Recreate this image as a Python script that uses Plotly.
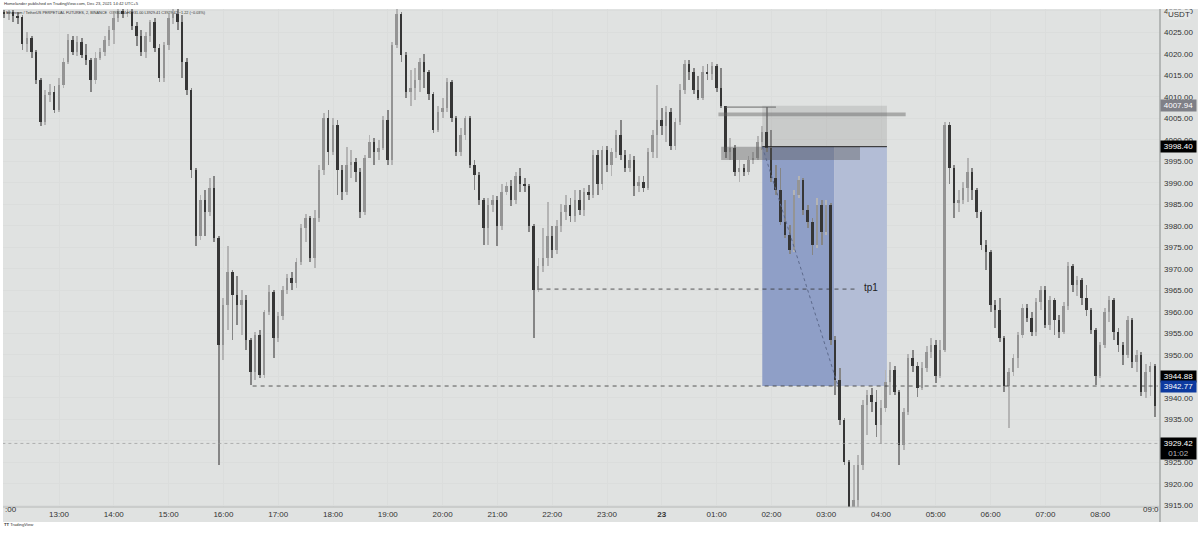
import pandas as pd
import plotly.graph_objects as go

# 5 minute candles, one row per hour, 12:00 on Dec 22 to 09:00 on Dec 23
opens = [
    4029.7, 4029.2, 4029.7, 4028.8, 4028.5, 4022.3, 4023.7, 4020.4, 4013.9, 4004.1, 4010.4, 4011.1,
    4006.9, 4012.7, 4018.1, 4023.2, 4020.4, 4022.7, 4019.7, 4018.6, 4013.9, 4019.0, 4020.4, 4023.2,
    4025.5, 4028.3, 4029.9, 4029.2, 4029.7, 4026.5, 4024.1, 4020.4, 4024.1, 4027.4, 4021.3, 4014.4,
    4022.0, 4028.3, 4029.2, 4027.4, 4018.1, 4011.6, 3993.0, 3977.6, 3986.0, 3983.2, 3988.8, 3977.2,
    3952.3, 3961.6, 3969.3, 3963.9, 3961.6, 3962.8, 3953.5, 3946.0, 3954.6, 3945.3, 3960.0, 3964.6,
    3953.9, 3959.0, 3965.1, 3967.9, 3966.7, 3971.6, 3979.5, 3981.8, 3972.5, 3981.8, 3993.0, 4005.1,
    3997.2, 4003.4, 3993.0, 3987.9, 3994.1, 3994.8, 3992.5, 3983.2, 3995.8, 3999.5, 3997.2, 3998.1,
    4004.6, 3995.3, 4022.0, 4029.2, 4019.7, 4011.1, 4012.0, 4013.9, 4018.1, 4015.8, 4010.6, 4002.3,
    4006.5, 4007.4, 4013.4, 4005.1, 3997.2, 4001.1, 4005.1, 3994.1, 3991.8, 3986.0, 3979.5, 3984.8,
    3986.0, 3980.0, 3987.9, 3989.3, 3986.0, 3991.6, 3989.7, 3989.3, 3980.0, 3965.1, 3970.7, 3972.5,
    3977.6, 3974.4, 3980.0, 3983.2, 3984.8, 3982.3, 3986.0, 3983.7, 3987.9, 3987.2, 3996.5, 3989.7,
    3997.6, 3994.1, 3997.2, 4001.1, 3996.5, 3993.4, 3995.3, 3989.3, 3990.2, 3988.8, 3997.2, 4001.1,
    4004.6, 4003.2, 4006.5, 3998.6, 4004.1, 4011.6, 4017.6, 4015.8, 4011.6, 4009.7, 4015.8, 4015.3,
    4017.2, 4012.0, 4007.9, 3997.2, 3998.1, 3992.5, 3993.4, 3992.5, 3995.3, 3995.8, 3999.5, 4001.8,
    3998.1, 3991.1, 3988.3, 3980.9, 3977.9, 3974.4, 3987.2, 3990.7, 3983.7, 3980.9, 3975.5, 3984.8,
    3978.6, 3984.8, 3953.5, 3944.2, 3934.9, 3925.1, 3914.6, 3916.3, 3924.4, 3938.3, 3940.7, 3939.0,
    3933.7, 3937.6, 3943.7, 3946.5, 3941.4, 3929.0, 3936.7, 3949.3, 3947.4, 3942.3, 3947.0, 3950.7,
    3952.3, 3945.1, 3951.1, 4003.4, 3993.4, 3985.3, 3986.0, 3988.8, 3992.5, 3988.3, 3983.2, 3975.5,
    3973.9, 3961.6, 3960.4, 3953.9, 3942.8, 3946.0, 3949.3, 3954.6, 3960.9, 3958.6, 3955.3, 3962.3,
    3965.1, 3956.9, 3962.8, 3958.1, 3955.3, 3961.4, 3970.7, 3966.2, 3967.4, 3963.2, 3960.4, 3955.8,
    3945.1, 3952.3, 3960.0, 3962.8, 3955.3, 3952.3, 3950.0, 3958.1, 3948.3, 3950.0, 3941.4, 3946.0,
    3947.4,
]
highs = [
    4030.2, 4030.2, 4030.2, 4029.7, 4029.0, 4025.1, 4024.1, 4020.9, 4014.4, 4011.6, 4013.0, 4012.5,
    4014.4, 4019.0, 4024.6, 4024.1, 4024.1, 4023.7, 4022.3, 4019.0, 4020.4, 4021.3, 4024.1, 4026.5,
    4029.2, 4030.4, 4030.4, 4030.4, 4030.4, 4027.4, 4025.5, 4025.1, 4027.9, 4028.3, 4022.3, 4022.7,
    4029.2, 4030.4, 4030.4, 4029.0, 4019.0, 4012.0, 3993.4, 3987.2, 3988.3, 3991.1, 3991.6, 3977.6,
    3963.2, 3975.3, 3969.7, 3968.3, 3965.1, 3963.9, 3953.9, 3955.3, 3955.8, 3960.4, 3966.2, 3965.1,
    3960.0, 3966.0, 3968.8, 3969.3, 3972.5, 3980.4, 3982.7, 3982.3, 3983.7, 3994.1, 4006.2, 4006.9,
    4005.1, 4004.6, 3994.1, 3998.3, 3997.6, 3995.8, 3993.4, 3996.5, 4001.1, 4000.4, 3999.9, 4005.5,
    4006.9, 4022.7, 4030.4, 4029.7, 4020.4, 4016.2, 4016.7, 4019.0, 4020.0, 4016.2, 4011.1, 4007.9,
    4009.7, 4014.4, 4013.9, 4005.5, 4002.7, 4005.5, 4005.5, 3995.3, 3992.5, 3986.5, 3986.5, 3987.2,
    3986.9, 3989.7, 3990.2, 3990.7, 3992.5, 3993.4, 3991.1, 3989.7, 3980.4, 3972.5, 3979.5, 3985.5,
    3980.0, 3981.4, 3985.1, 3987.2, 3986.5, 3988.3, 3988.3, 3988.8, 3989.5, 3997.6, 3997.6, 3998.6,
    3998.6, 3998.1, 4002.3, 4004.6, 3997.6, 3996.7, 3996.2, 3991.6, 3991.6, 3998.1, 4002.3, 4012.7,
    4007.4, 4007.9, 4007.4, 4005.1, 4013.0, 4018.6, 4018.6, 4016.7, 4014.8, 4017.2, 4017.6, 4018.1,
    4017.6, 4016.7, 4007.9, 4000.4, 3998.8, 3995.3, 3994.4, 3996.2, 3997.2, 4000.9, 4003.2, 4007.6,
    4002.3, 3994.1, 3993.4, 3986.0, 3980.2, 3988.3, 3991.6, 3991.1, 3984.8, 3981.8, 3986.5, 3986.0,
    3986.0, 3985.3, 3954.4, 3947.0, 3935.3, 3925.6, 3924.4, 3926.7, 3939.5, 3941.8, 3942.3, 3941.8,
    3939.5, 3946.5, 3948.3, 3947.4, 3941.8, 3937.6, 3950.2, 3951.1, 3948.3, 3948.3, 3952.1, 3953.9,
    3953.5, 3953.5, 4004.1, 4004.1, 3994.1, 3988.3, 3990.2, 3995.8, 3993.4, 3988.8, 3983.7, 3976.7,
    3974.4, 3962.8, 3963.2, 3954.4, 3947.0, 3950.2, 3955.3, 3961.8, 3961.8, 3960.0, 3963.2, 3966.0,
    3966.0, 3963.7, 3963.2, 3959.3, 3962.3, 3971.6, 3971.1, 3968.3, 3967.9, 3966.2, 3960.9, 3956.2,
    3953.0, 3960.9, 3963.7, 3963.2, 3956.2, 3953.0, 3959.0, 3958.6, 3951.1, 3950.7, 3947.9, 3948.3,
    3947.9,
]
lows = [
    4028.3, 4027.9, 4027.4, 4026.9, 4020.9, 4020.4, 4019.0, 4013.0, 4003.2, 4003.4, 4008.8, 4006.2,
    4006.5, 4012.0, 4017.6, 4019.7, 4019.5, 4019.0, 4017.4, 4011.1, 4013.0, 4018.6, 4019.5, 4021.8,
    4022.3, 4027.4, 4028.3, 4028.5, 4025.5, 4021.8, 4019.5, 4019.0, 4022.7, 4020.4, 4013.4, 4013.4,
    4020.9, 4026.9, 4025.5, 4014.4, 4010.4, 3991.1, 3975.3, 3976.7, 3977.6, 3982.3, 3976.2, 3924.4,
    3948.8, 3955.8, 3953.5, 3956.9, 3954.6, 3951.1, 3943.0, 3944.2, 3944.6, 3944.6, 3959.3, 3949.3,
    3953.0, 3958.1, 3964.1, 3965.1, 3965.5, 3970.9, 3976.2, 3971.6, 3970.2, 3980.9, 3991.8, 3994.1,
    3996.5, 3987.2, 3986.0, 3987.2, 3991.1, 3990.2, 3981.8, 3982.5, 3995.8, 3994.1, 3995.3, 3997.6,
    3994.1, 3994.1, 4021.3, 4018.1, 4009.7, 4007.9, 4009.3, 4011.1, 4012.0, 4009.3, 4001.6, 4001.8,
    4005.1, 4006.5, 4004.1, 3996.2, 3996.2, 3999.9, 3993.4, 3988.3, 3984.8, 3975.5, 3975.5, 3983.2,
    3975.3, 3979.0, 3987.2, 3984.6, 3985.1, 3987.9, 3987.9, 3978.6, 3953.9, 3964.6, 3969.3, 3970.7,
    3972.5, 3973.4, 3978.6, 3981.4, 3980.9, 3980.9, 3982.5, 3982.3, 3986.0, 3986.5, 3987.2, 3988.3,
    3992.5, 3991.6, 3995.8, 3995.3, 3992.5, 3992.5, 3986.9, 3987.9, 3987.9, 3988.3, 3995.8, 3995.8,
    4001.1, 3999.5, 3997.6, 3997.6, 4003.4, 4010.6, 4013.9, 4010.6, 4009.3, 4009.3, 4013.9, 4013.9,
    4011.1, 4007.4, 3995.8, 3995.3, 3991.6, 3990.2, 3991.6, 3991.8, 3994.4, 3995.3, 3997.6, 3997.2,
    3990.2, 3987.2, 3980.2, 3977.2, 3973.4, 3973.9, 3986.5, 3982.5, 3979.5, 3973.2, 3974.8, 3975.5,
    3977.9, 3952.3, 3940.7, 3933.7, 3924.4, 3914.0, 3914.0, 3914.6, 3923.2, 3931.4, 3936.7, 3930.9,
    3929.3, 3936.7, 3940.7, 3940.7, 3924.4, 3927.9, 3936.0, 3946.0, 3940.2, 3941.8, 3946.0, 3949.3,
    3943.5, 3944.6, 3950.7, 3989.7, 3981.8, 3983.2, 3985.1, 3985.5, 3986.0, 3981.8, 3974.4, 3969.7,
    3960.0, 3956.2, 3953.0, 3941.4, 3933.0, 3945.1, 3947.0, 3953.9, 3957.6, 3954.4, 3954.4, 3960.4,
    3956.2, 3955.8, 3954.6, 3953.9, 3954.9, 3960.4, 3964.6, 3963.7, 3961.6, 3959.0, 3954.9, 3943.0,
    3944.6, 3951.6, 3957.6, 3953.5, 3950.7, 3947.6, 3949.3, 3947.0, 3946.0, 3940.4, 3940.0, 3940.4,
    3935.5,
]
closes = [
    4029.2, 4029.7, 4028.8, 4028.5, 4022.3, 4023.7, 4020.4, 4013.9, 4004.1, 4010.4, 4011.1, 4006.9,
    4012.7, 4018.1, 4023.2, 4020.4, 4022.7, 4019.7, 4018.6, 4013.9, 4019.0, 4020.4, 4023.2, 4025.5,
    4028.3, 4029.9, 4029.2, 4029.7, 4026.5, 4024.1, 4020.4, 4024.1, 4027.4, 4021.3, 4014.4, 4022.0,
    4028.3, 4029.2, 4027.4, 4018.1, 4011.6, 3993.0, 3977.6, 3986.0, 3983.2, 3988.8, 3977.2, 3952.3,
    3961.6, 3969.3, 3963.9, 3961.6, 3962.8, 3953.5, 3946.0, 3954.6, 3945.3, 3960.0, 3964.6, 3953.9,
    3959.0, 3965.1, 3967.9, 3966.7, 3971.6, 3979.5, 3981.8, 3972.5, 3981.8, 3993.0, 4005.1, 3997.2,
    4003.4, 3993.0, 3987.9, 3994.1, 3994.8, 3992.5, 3983.2, 3995.8, 3999.5, 3997.2, 3998.1, 4004.6,
    3995.3, 4022.0, 4029.2, 4019.7, 4011.1, 4012.0, 4013.9, 4018.1, 4015.8, 4010.6, 4002.3, 4006.5,
    4007.4, 4013.4, 4005.1, 3997.2, 4001.1, 4005.1, 3994.1, 3991.8, 3986.0, 3979.5, 3984.8, 3986.0,
    3980.0, 3987.9, 3989.3, 3986.0, 3991.6, 3989.7, 3989.3, 3980.0, 3965.1, 3970.7, 3972.5, 3977.6,
    3974.4, 3980.0, 3983.2, 3984.8, 3982.3, 3986.0, 3983.7, 3987.9, 3987.2, 3996.5, 3989.7, 3997.6,
    3994.1, 3997.2, 4001.1, 3996.5, 3993.4, 3995.3, 3989.3, 3990.2, 3988.8, 3997.2, 4001.1, 4004.6,
    4003.2, 4006.5, 3998.6, 4004.1, 4011.6, 4017.6, 4015.8, 4011.6, 4009.7, 4015.8, 4015.3, 4017.2,
    4012.0, 4007.9, 3997.2, 3998.1, 3992.5, 3993.4, 3992.5, 3995.3, 3995.8, 3999.5, 4001.8, 3998.1,
    3991.1, 3988.3, 3980.9, 3977.9, 3974.4, 3987.2, 3990.7, 3983.7, 3980.9, 3975.5, 3984.8, 3978.6,
    3984.8, 3953.5, 3944.2, 3934.9, 3925.1, 3914.6, 3916.3, 3924.4, 3938.3, 3940.7, 3939.0, 3933.7,
    3937.6, 3943.7, 3946.5, 3941.4, 3929.0, 3936.7, 3949.3, 3947.4, 3942.3, 3947.0, 3950.7, 3952.3,
    3945.1, 3951.1, 4003.4, 3993.4, 3985.3, 3986.0, 3988.8, 3992.5, 3988.3, 3983.2, 3975.5, 3973.9,
    3961.6, 3960.4, 3953.9, 3942.8, 3946.0, 3949.3, 3954.6, 3960.9, 3958.6, 3955.3, 3962.3, 3965.1,
    3956.9, 3962.8, 3958.1, 3955.3, 3961.4, 3970.7, 3966.2, 3967.4, 3963.2, 3960.4, 3955.8, 3945.1,
    3952.3, 3960.0, 3962.8, 3955.3, 3952.3, 3950.0, 3958.1, 3948.3, 3950.0, 3941.4, 3946.0, 3947.4,
    3938.1,
]
times = pd.date_range("2021-12-22 12:00", periods=len(closes), freq="5min")

hour_ticks = pd.date_range("2021-12-22 13:00", "2021-12-23 08:00", freq="h")
hour_labels = ["<b>23</b>" if t.hour == 0 else t.strftime("%H:%M") for t in hour_ticks]
# 3930 and 3945 sit fully behind the price tags
price_ticks = [p for p in range(3915, 4035, 5) if p not in (3930, 3945)]
grid_prices = list(range(3915, 4035, 5))

supply_top = 4007.94
entry_price = 3998.40
tp1_price = 3965.3
target_price = 3942.77
last_price = 3929.42
flag_high = 4007.6
mid_band = 4005.9
demand_low = 3995.3

BG = "#e0e2e1"
GRID = "#dbdddc"
TEXT = "#333333"
FONT = "Liberation Sans"
UP_BODY, DOWN_BODY = "#949494", "#363636"
UP_WICK, DOWN_WICK = "#b4b4b4", "#858585"

is_up = [c >= o for o, c in zip(opens, closes)]

fig = go.Figure()
# candles as bars so that the thin 2 minute look can be kept; plotly candlestick has no width option
fig.add_trace(go.Bar(
    x=times, base=lows, y=[h - l for h, l in zip(highs, lows)], width=55000,
    marker=dict(color=[UP_WICK if u else DOWN_WICK for u in is_up], line_width=0), showlegend=False,
))
fig.add_trace(go.Bar(
    x=times, base=[min(o, c) for o, c in zip(opens, closes)],
    y=[abs(o - c) for o, c in zip(opens, closes)], width=130000,
    marker=dict(color=[UP_BODY if u else DOWN_BODY for u in is_up], line_width=0), showlegend=False,
))


def zone(x0, x1, y0, y1, color, layer="between"):
    fig.add_shape(type="rect", x0=x0, x1=x1, y0=y0, y1=y1, fillcolor=color,
                  line_width=0, layer=layer)


def level(x0, x1, y, color, width=1, dash="solid"):
    fig.add_shape(type="line", x0=x0, x1=x1, y0=y, y1=y,
                  line=dict(color=color, width=width, dash=dash))


# trade drawings
zone("2021-12-23 01:50", "2021-12-23 04:06:30", entry_price, supply_top, "rgba(150,150,150,0.3)")
zone("2021-12-23 01:50", "2021-12-23 03:09", target_price, entry_price, "#8f9fc7")
zone("2021-12-23 03:09", "2021-12-23 04:06:30", target_price, entry_price, "#b3bdd6")
zone("2021-12-23 01:05", "2021-12-23 03:37", demand_low, entry_price, "rgba(90,90,90,0.4)", "above")
zone("2021-12-23 01:02", "2021-12-23 04:27", mid_band - 0.45, mid_band + 0.45, "rgba(100,100,100,0.45)", "above")
level("2021-12-23 01:10", "2021-12-23 02:05", flag_high, "#6a6a6a", 1)
level("2021-12-23 01:50", "2021-12-23 04:06:30", entry_price, "#222222", 1)
fig.add_shape(type="line", x0="2021-12-23 01:50", x1="2021-12-23 03:13", y0=entry_price, y1=target_price,
              line=dict(color="#5d6a8c", width=1, dash="dot"))
level("2021-12-22 21:45", "2021-12-23 03:35", tp1_price, "#333333", 0.8, "4px,4px")
level("2021-12-22 16:32", "2021-12-23 09:03", target_price, "#333333", 0.8, "4px,4px")
level("2021-12-22 11:58", "2021-12-23 09:05", last_price, "#9a9a9a", 0.7, "dot")

# right and bottom scale strips, drawn outside the plot area
fig.add_shape(type="rect", xref="paper", yref="paper", x0=1, x1=1.0328, y0=-0.0302, y1=1,
              fillcolor=BG, line_width=0, layer="below")
fig.add_shape(type="rect", xref="paper", yref="paper", x0=0, x1=1.0328, y0=-0.0302, y1=0,
              fillcolor=BG, line_width=0, layer="below")
fig.add_shape(type="line", xref="paper", yref="paper", x0=1, x1=1, y0=-0.0302, y1=1,
              line=dict(color="#a5a7a6", width=1.5))
fig.add_shape(type="line", xref="paper", yref="paper", x0=0, x1=1, y0=0, y1=0,
              line=dict(color="#b5b7b6", width=1))


def note(text, x, y, size=8, color=TEXT, xanchor="left", xref="paper", yref="paper", **kw):
    fig.add_annotation(text=text, x=x, y=y, xref=xref, yref=yref, xanchor=xanchor, showarrow=False,
                       font=dict(family=FONT, size=size, color=color), borderpad=0, **kw)


def price_tag(text, y, bg, color="#ffffff", height=11):
    note(text, 1, y, color=color, yref="y", bgcolor=bg, width=35, height=height, align="center")


price_tag("4007.94", supply_top, "#7f8087")
price_tag("3998.40", entry_price, "#000000")
price_tag("3944.88", 3944.88, "#000000")
price_tag("3942.77", target_price, "#0d3a9f")
price_tag('3929.42<br><span style="color:#b8b8b8">01:02</span>', 3928.2, "#000000", height=21)
note("USDT", 1.016, 1.0, yanchor="top", bgcolor="#e6e8e7", xanchor="center")
note("tp1", "2021-12-23 03:40", 3965.6, size=10, color="#222222", xref="x", yref="y")
note(":00", 0, -0.0155, xanchor="left", xshift=1)
note("09:0", 1, -0.0155, xanchor="right")

note("Homelander published on TradingView.com, Dec 23, 2021 14:42 UTC+5", 0, 1.018, size=4.2)
note("Ethereum / TetherUS PERPETUAL FUTURES, 2, BINANCE  O3930.64 H3931.00 L3929.41 C3929.42 −1.22 (−0.03%)",
     0.002, 0.998, size=3.8)
note("<b>TT</b> TradingView", 0, -0.0415, size=4.2)

fig.update_layout(
    width=1200, height=534, margin=dict(l=3, r=40, t=9, b=27),
    paper_bgcolor="#ffffff", plot_bgcolor=BG, barmode="overlay", bargap=0,
    font=dict(family=FONT, size=8, color=TEXT),
    xaxis=dict(type="date", range=["2021-12-22 11:58:41", "2021-12-23 09:05:28"],
               tickmode="array", tickvals=list(hour_ticks), ticktext=hour_labels,
               gridcolor=GRID, gridwidth=1, showline=False, zeroline=False, ticks="", ticklen=0,
               tickangle=0, ticklabelstandoff=1, tickfont=dict(family=FONT, size=8, color=TEXT)),
    yaxis=dict(range=[3914.65, 4030.4], side="right", tickmode="array", tickvals=grid_prices,
               ticktext=[f"{p:.2f}" if p in price_ticks else "" for p in grid_prices],
               gridcolor=GRID, gridwidth=1,
               showline=False, zeroline=False, ticks="", ticklabelstandoff=3,
               tickfont=dict(family=FONT, size=8, color=TEXT)),
    hovermode="closest",
)

# the page body has a default margin that would push the chart off the window
fig.write_html("out.html", config={"displayModeBar": False},
               post_script="document.body.style.margin='0';")
